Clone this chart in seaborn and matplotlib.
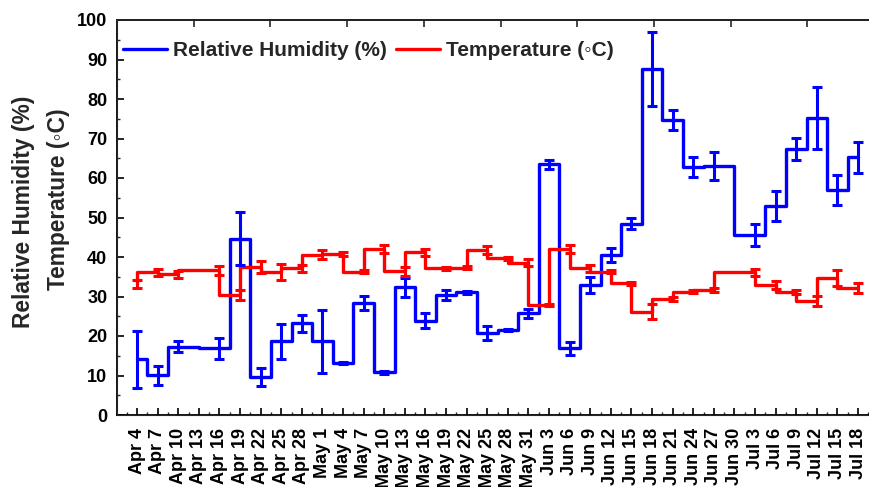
import numpy as np
import pandas as pd
import matplotlib
matplotlib.use("Agg")
import matplotlib.pyplot as plt
import seaborn as sns
from matplotlib.ticker import MultipleLocator

dates = ['Apr 4', 'Apr 7', 'Apr 10', 'Apr 13', 'Apr 16', 'Apr 19', 'Apr 22', 'Apr 25',
         'Apr 28', 'May 1', 'May 4', 'May 7', 'May 10', 'May 13', 'May 16', 'May 19',
         'May 22', 'May 25', 'May 28', 'May 31', 'Jun 3', 'Jun 6', 'Jun 9', 'Jun 12',
         'Jun 15', 'Jun 18', 'Jun 21', 'Jun 24', 'Jun 27', 'Jun 30', 'Jul 3', 'Jul 6',
         'Jul 9', 'Jul 12', 'Jul 15', 'Jul 18']

rh = [14.1, 10.1, 17.3, None, 16.9, 44.6, 9.7, 18.7, 23.2, 18.7, 13.2, 28.3,
      10.8, 32.3, 23.9, 30.4, 31.1, 20.7, 21.5, 25.7, 63.5, 16.9, 33.0, 40.5,
      48.4, 87.6, 74.7, 62.7, 63.0, None, 45.6, 52.9, 67.3, 75.2, 57.0, 65.2]
rh_err = [7.2, 2.4, 1.4, None, 2.7, 6.7, 2.3, 4.4, 2.2, 8.0, 0.3, 1.8,
          0.3, 2.3, 1.8, 1.35, 0.4, 1.75, 0.3, 1.1, 1.1, 1.6, 2.0, 1.8,
          1.4, 9.3, 2.6, 2.5, 3.6, None, 2.75, 3.8, 2.8, 7.8, 3.8, 4.0]

temp = [33.2, 36.1, 35.6, None, 36.6, 30.4, 37.5, 36.3, 37.1, 40.6, 40.7, 36.3,
        42.0, 36.4, 41.2, 37.1, 37.3, 41.7, 39.7, 38.6, 27.8, 42.0, 37.1, 36.3,
        33.3, 26.2, 29.4, 31.2, 31.6, None, 36.1, 32.9, 31.2, 28.9, 34.6, 32.2]
temp_err = [1.0, 0.85, 0.8, None, 1.1, 1.25, 1.55, 2.0, 0.85, 1.1, 0.5, 0.3,
            1.05, 1.15, 0.85, 0.3, 0.3, 1.0, 0.4, 0.8, 0.3, 1.05, 1.0, 0.4,
            0.4, 2.0, 0.6, 0.4, 0.5, None, 0.85, 1.0, 0.5, 1.35, 2.0, 1.25]

sns.set_style("ticks")
plt.rcParams['font.family'] = ['Liberation Sans', 'DejaVu Sans']
plt.rcParams['font.weight'] = 'bold'

df = pd.DataFrame({'pos': np.arange(len(dates)), 'date': dates,
                   'rh': pd.to_numeric(pd.Series(rh), errors='coerce'),
                   'rh_err': pd.to_numeric(pd.Series(rh_err), errors='coerce'),
                   'temp': pd.to_numeric(pd.Series(temp), errors='coerce'),
                   'temp_err': pd.to_numeric(pd.Series(temp_err), errors='coerce')})
d = df.dropna()

W, H = 869, 487
fig = plt.figure(figsize=(W / 100, H / 100), dpi=100)
L, R, T, B = 117, 872, 20, 415
ax = fig.add_axes([L / W, 1 - B / H, (R - L) / W, (B - T) / H])

BLUE = '#0000ff'
RED = '#ff0000'

sns.lineplot(data=d, x='pos', y='rh', drawstyle='steps-mid', color=BLUE, lw=2.4,
             ax=ax, label='Relative Humidity (%)', errorbar=None)
sns.lineplot(data=d, x='pos', y='temp', drawstyle='steps-pre', color=RED, lw=2.4,
             ax=ax, label='Temperature (\u25e6C)', errorbar=None)
ax.errorbar(d['pos'], d['rh'], yerr=d['rh_err'], fmt='none', ecolor=BLUE,
            elinewidth=2.2, capsize=3.5, capthick=2.2)
ax.errorbar(d['pos'], d['temp'], yerr=d['temp_err'], fmt='none', ecolor=RED,
            elinewidth=2.2, capsize=3.5, capthick=2.2)

px = 20.6
x0 = -(137 - L) / px
x1 = x0 + (R - L) / px
ax.set_xlim(x0, x1)
ax.set_ylim(0, 100)
ax.set_xticks(np.arange(len(dates)))
ax.set_xticklabels(dates, rotation=90, fontsize=13, fontweight='bold')
ax.xaxis.set_minor_locator(MultipleLocator(0.5))
ax.yaxis.set_major_locator(MultipleLocator(10))
ax.yaxis.set_minor_locator(MultipleLocator(5))
for lab in ax.get_yticklabels():
    lab.set_fontsize(13)
    lab.set_fontweight('bold')
ax.tick_params(axis='both', which='major', direction='in', length=5, width=1.2,
               colors='black')
ax.tick_params(axis='both', which='minor', direction='in', length=2.5, width=1.0)
ax.tick_params(axis='x', which='major', pad=9.5)
ax.tick_params(axis='y', which='major', pad=7)
ax.set_xlabel('')
ax.set_ylabel('')
for s in ax.spines.values():
    s.set_linewidth(1.3)
    s.set_color('black')

# top ticks (secondary scale)
ax2 = ax.twiny()
ax2.set_xlim(0, (R - L) / 76.7)
ax2.xaxis.set_major_locator(MultipleLocator(1))
ax2.tick_params(axis='x', which='major', direction='in', length=5, width=1.2,
                labeltop=False, top=True)
ax2.spines['top'].set_linewidth(1.3)

fig.text(24 / W, 1 - 212 / H, 'Relative Humidity (%)', rotation=90, ha='center',
         va='center', fontsize=16.4, fontweight='bold')
fig.text(59 / W, 1 - 199 / H, 'Temperature (\u25e6C)', rotation=90, ha='center',
         va='center', fontsize=16.4, fontweight='bold')

leg = ax.legend(loc='upper left', bbox_to_anchor=(6 / (R - L), 1 - 21 / (B - T)),
                ncol=2, frameon=False, fontsize=15, handlelength=2.1,
                handletextpad=0.3, columnspacing=0.45, borderaxespad=0.0,
                borderpad=0.0)
for t in leg.get_texts():
    t.set_fontweight('bold')
for h in leg.legend_handles:
    h.set_linewidth(2.4)

fig.savefig('out.png', dpi=100)
